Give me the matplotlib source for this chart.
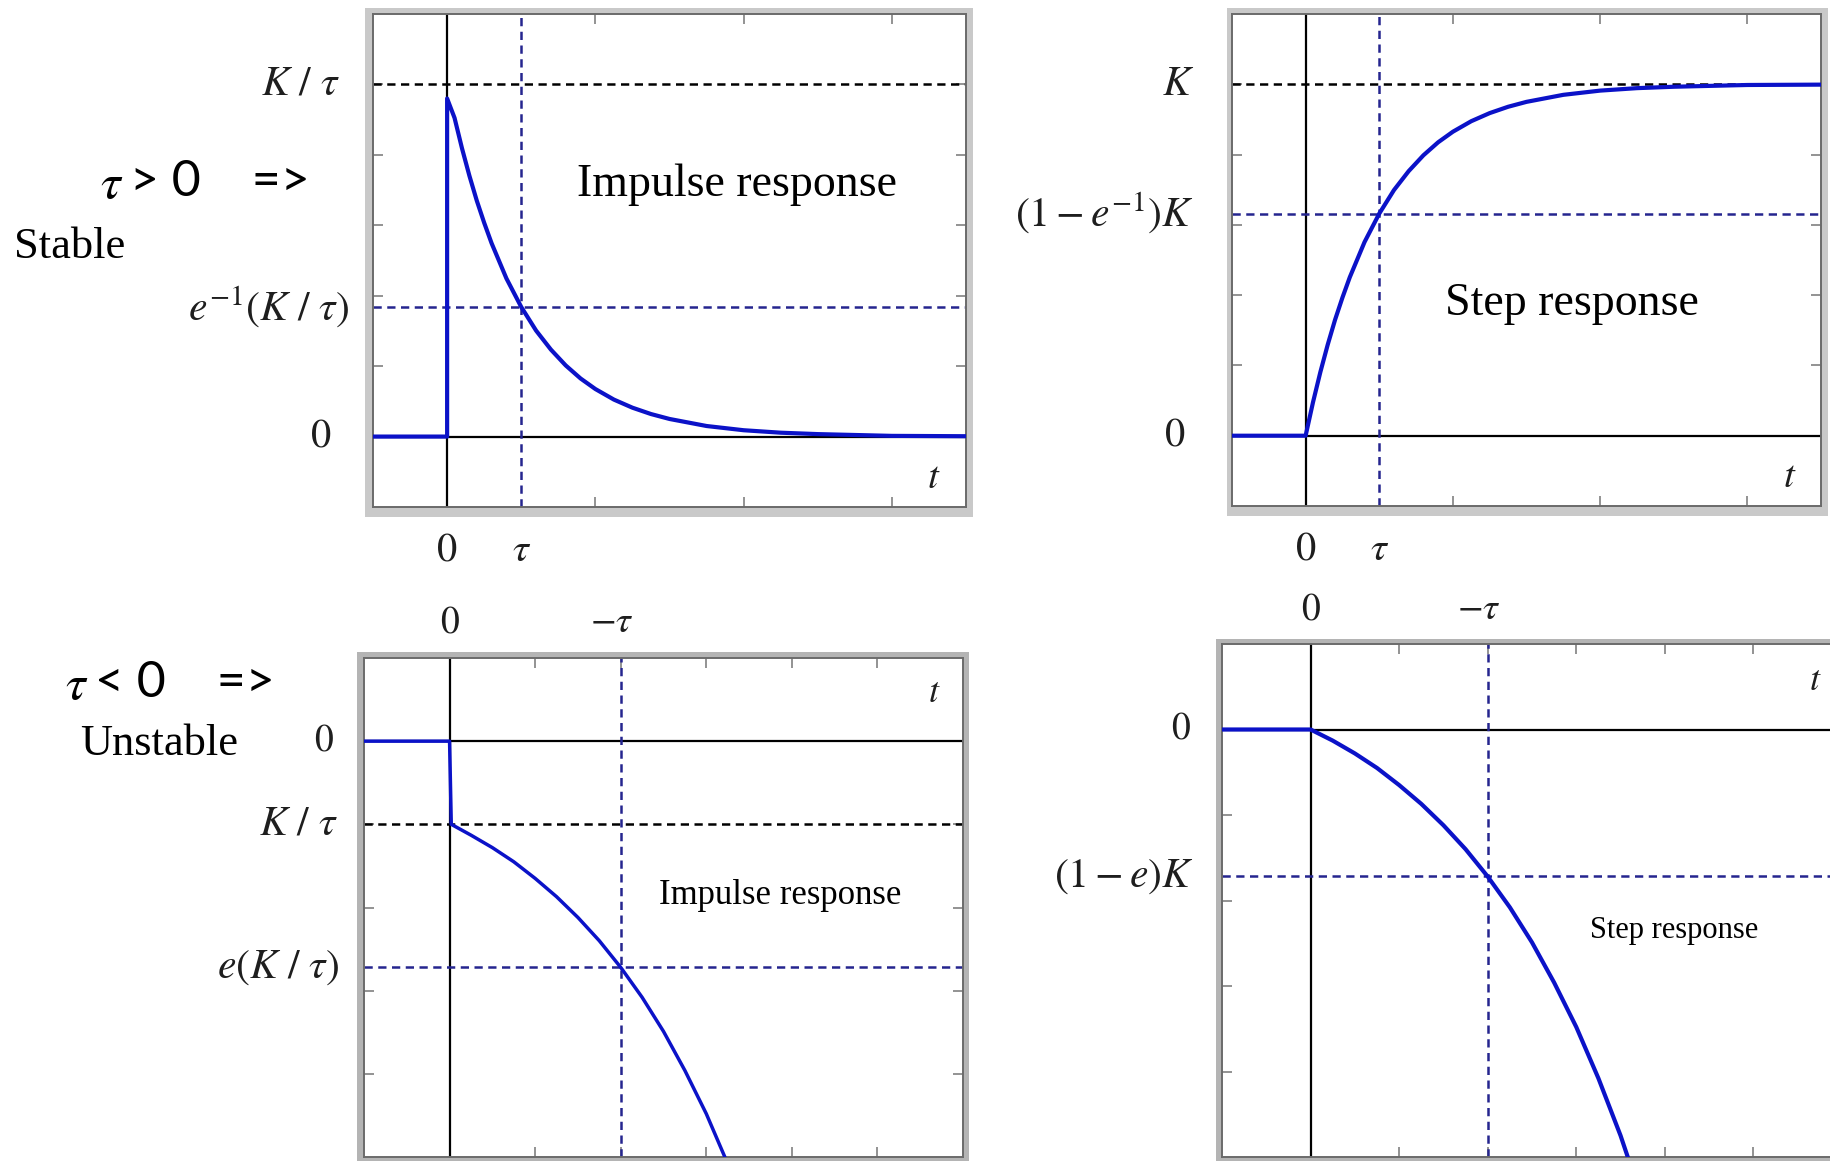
import matplotlib
matplotlib.use("Agg")
import matplotlib.pyplot as plt
from matplotlib.patches import Rectangle

plt.rcParams['mathtext.fontset'] = 'stix'
plt.rcParams['font.family'] = ['Liberation Serif', 'DejaVu Serif']

W, H = 1831, 1161

# first-order responses, tau > 0 (K = 1, tau = 1)
t_imp_pos = [-1, 0, 0, 0.1, 0.2, 0.3, 0.4, 0.5, 0.6, 0.8, 1.0, 1.2, 1.4, 1.6, 1.8,
             2.0, 2.25, 2.5, 2.75, 3.0, 3.5, 4.0, 4.5, 5.0, 6.0, 7.0]
h_imp_pos = [0, 0, 0.96, 0.905, 0.819, 0.741, 0.670, 0.607, 0.549, 0.449, 0.368,
             0.301, 0.247, 0.202, 0.165, 0.135, 0.105, 0.082, 0.064, 0.050, 0.030,
             0.018, 0.011, 0.007, 0.002, 0.001]

t_step_pos = [-1, 0, 0.1, 0.2, 0.3, 0.4, 0.5, 0.6, 0.8, 1.0, 1.2, 1.4, 1.6, 1.8,
              2.0, 2.25, 2.5, 2.75, 3.0, 3.5, 4.0, 4.5, 5.0, 6.0, 7.0]
y_step_pos = [0, 0, 0.095, 0.181, 0.259, 0.330, 0.393, 0.451, 0.551, 0.632, 0.699,
              0.753, 0.798, 0.835, 0.865, 0.895, 0.918, 0.936, 0.950, 0.970, 0.982,
              0.989, 0.993, 0.998, 0.999]

# tau < 0 (K / tau = -1, -tau = 2)
t_imp_neg = [-1, 0, 0.02, 0.25, 0.5, 0.75, 1.0, 1.25, 1.5, 1.75, 2.0, 2.25, 2.5,
             2.75, 3.0, 3.25, 3.5]
h_imp_neg = [0, 0, -1.0, -1.13, -1.28, -1.45, -1.65, -1.87, -2.12, -2.40, -2.72,
             -3.08, -3.49, -3.96, -4.48, -5.08, -5.75]

t_step_neg = [-1, 0, 0.25, 0.5, 0.75, 1.0, 1.25, 1.5, 1.75, 2.0, 2.25, 2.5, 2.75,
              3.0, 3.25, 3.5, 3.75]
y_step_neg = [0, 0, -0.13, -0.28, -0.45, -0.65, -0.87, -1.12, -1.40, -1.72, -2.08,
              -2.49, -2.96, -3.48, -4.08, -4.75, -5.52]

# reference levels
tau_pos = 1.0
kt_level = 1.0
e1_kt_level = 0.368
k_level = 1.0
one_minus_e1 = 0.632
tau_neg_mark = 2.0
kt_neg = -1.0
e_kt_neg = -2.718
one_minus_e = -1.718

CURVE = '#0b12c8'
NAVY = '#25258f'
LABEL = '#1e1e1e'


def frac(x, y):
    return x / W, 1 - y / H


def panel(left, top, right, bottom, band, band_color, xlim, ylim, xticks, yticks):
    # left/top/right/bottom in pixels
    fig.patches.append(Rectangle(frac(left - band[0], bottom + band[3]),
                                 (right - left + band[0] + band[2]) / W,
                                 (bottom - top + band[1] + band[3]) / H,
                                 transform=fig.transFigure, facecolor=band_color,
                                 edgecolor='none', zorder=-5))
    ax = fig.add_axes([left / W, 1 - bottom / H, (right - left) / W, (bottom - top) / H])
    ax.set_facecolor('white')
    ax.set_xlim(*xlim)
    ax.set_ylim(*ylim)
    ax.set_xticks(xticks)
    ax.set_yticks(yticks)
    ax.tick_params(direction='in', length=7, width=1.3, color='#8a8a8a',
                   top=True, right=True, labelleft=False, labelbottom=False)
    for s in ax.spines.values():
        s.set_color('#6a6a6a')
        s.set_linewidth(1.4)
    ax.axhline(0, color='black', lw=1.6, zorder=2)
    ax.axvline(0, color='black', lw=1.6, zorder=2)
    return ax


def hdash(ax, y, color):
    ax.axhline(y, color=color, lw=1.8, dashes=(3.3, 2.2), zorder=2)


def vdash(ax, x, color):
    ax.axvline(x, color=color, lw=1.8, dashes=(3.3, 2.2), zorder=2)


def ylab(ax, y, s, xpx, size=30):
    ax.text(xpx, y, s, transform=ax.get_yaxis_transform(), ha='right', va='center',
            fontsize=size, color=LABEL)


fig = plt.figure(figsize=(W / 100, H / 100), dpi=100)

# ---- tau > 0, impulse
ax1 = panel(373, 14, 966, 507, (8, 6, 7, 10), '#c9c9c9', (-1, 7), (-0.2, 1.2),
            [2, 4, 6], [0.2, 0.4, 0.6, 0.8, 1.0])
hdash(ax1, kt_level, 'black')
hdash(ax1, e1_kt_level, NAVY)
vdash(ax1, tau_pos, NAVY)
ax1.plot(t_imp_pos, h_imp_pos, color=CURVE, lw=3.0, zorder=3)
ylab(ax1, kt_level, r'$K\ /\ \tau$', -0.055)
ylab(ax1, e1_kt_level, r'$e^{-1}(K\ /\ \tau)$', -0.04)
ylab(ax1, 0, r'$0$', -0.07, 29)
ax1.text(6.57, -0.12, r'$t$', ha='center', va='center', fontsize=28, color=LABEL)
ax1.text(3.91, 0.715, 'Impulse response', ha='center', va='center', fontsize=33)
for xv, s in [(0, r'$0$'), (tau_pos, r'$\tau$')]:
    ax1.text(xv, -0.09, s, transform=ax1.get_xaxis_transform(), ha='center',
             va='center', fontsize=29, color=LABEL)

# ---- tau > 0, step
ax2 = panel(1232, 14, 1821, 506, (5, 6, 7, 10), '#c9c9c9', (-1, 7), (-0.2, 1.2),
            [2, 4, 6], [0.2, 0.4, 0.6, 0.8, 1.0])
hdash(ax2, k_level, 'black')
hdash(ax2, one_minus_e1, NAVY)
vdash(ax2, tau_pos, NAVY)
ax2.plot(t_step_pos, y_step_pos, color=CURVE, lw=3.0, zorder=3)
ylab(ax2, k_level, r'$K$', -0.065)
ylab(ax2, one_minus_e1, r'$\left(1 - e^{-1}\right)K$', -0.065)
ylab(ax2, 0, r'$0$', -0.08, 29)
ax2.text(6.57, -0.12, r'$t$', ha='center', va='center', fontsize=28, color=LABEL)
ax2.text(3.62, 0.375, 'Step response', ha='center', va='center', fontsize=33)
for xv, s in [(0, r'$0$'), (tau_pos, r'$\tau$')]:
    ax2.text(xv, -0.09, s, transform=ax2.get_xaxis_transform(), ha='center',
             va='center', fontsize=29, color=LABEL)

# ---- tau < 0, impulse
ax3 = panel(364, 658, 963, 1157, (7, 6, 6, 6), '#b4b4b4', (-1, 6), (-5, 1),
            [1, 2, 3, 4, 5], [-4, -3, -2, -1])
hdash(ax3, kt_neg, 'black')
hdash(ax3, e_kt_neg, NAVY)
vdash(ax3, tau_neg_mark, NAVY)
ax3.plot(t_imp_neg, h_imp_neg, color=CURVE, lw=2.5, zorder=3)
ylab(ax3, 0, r'$0$', -0.05, 27)
ylab(ax3, kt_neg, r'$K\ /\ \tau$', -0.043)
ylab(ax3, e_kt_neg, r'$e(K\ /\ \tau)$', -0.04)
ax3.text(5.66, 0.57, r'$t$', ha='center', va='center', fontsize=26, color=LABEL)
ax3.text(3.86, -1.85, 'Impulse response', ha='center', va='center', fontsize=25)
for xv, s in [(0, r'$0$'), (tau_neg_mark, r'$-\tau$')]:
    ax3.text(xv - (0.1 if xv else 0), 1.07, s, transform=ax3.get_xaxis_transform(),
             ha='center', va='center', fontsize=27, color=LABEL)

# ---- tau < 0, step
ax4 = panel(1222, 644, 1842, 1157, (6, 5, 6, 6), '#b4b4b4', (-1, 6), (-5, 1),
            [1, 2, 3, 4, 5], [-4, -3, -2, -1])
hdash(ax4, one_minus_e, NAVY)
vdash(ax4, tau_neg_mark, NAVY)
ax4.plot(t_step_neg, y_step_neg, color=CURVE, lw=3.0, zorder=3)
ylab(ax4, 0, r'$0$', -0.05, 27)
ylab(ax4, one_minus_e, r'$\left(1 - e\right)K$', -0.046)
ax4.text(5.7, 0.56, r'$t$', ha='center', va='center', fontsize=26, color=LABEL)
ax4.text(4.10, -2.35, 'Step response', ha='center', va='center', fontsize=22)
for xv, s in [(0, r'$0$'), (tau_neg_mark, r'$-\tau$')]:
    ax4.text(xv - (0.1 if xv else 0), 1.066, s, transform=ax4.get_xaxis_transform(),
             ha='center', va='center', fontsize=27, color=LABEL)

# stability captions
fig.text(*frac(100, 186), r'$\tau$', ha='left', va='center', fontsize=36)
fig.text(*frac(130, 182), '> 0    =>', ha='left', va='center', fontsize=36,
         family=['Lato', 'DejaVu Sans'])
fig.text(*frac(14, 247), 'Stable', ha='left', va='center', fontsize=32)
fig.text(*frac(65, 687), r'$\tau$', ha='left', va='center', fontsize=36)
fig.text(*frac(95, 683), '< 0    =>', ha='left', va='center', fontsize=36,
         family=['Lato', 'DejaVu Sans'])
fig.text(*frac(80, 744), 'Unstable', ha='left', va='center', fontsize=32)

fig.savefig('out.png', dpi=100)
